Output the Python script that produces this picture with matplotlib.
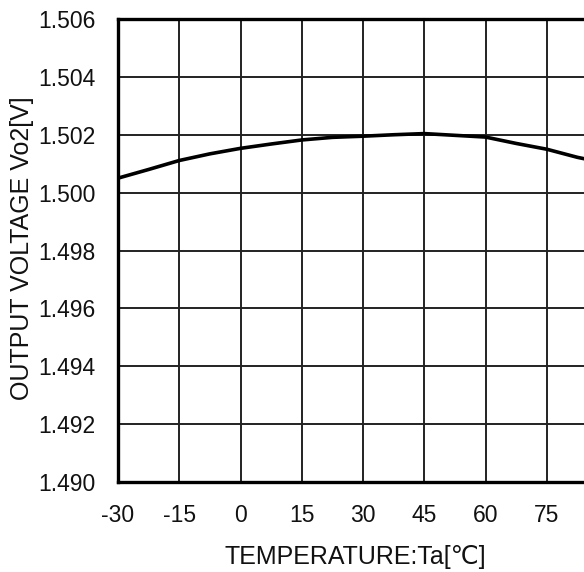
import matplotlib.pyplot as plt

# temperature [C] and output voltage Vo2 [V]
temp = [-30, -22.5, -15, -7.5, 0, 7.5, 15, 22.5, 30, 37.5, 45, 52.5, 60, 67.5, 75, 82.5, 90]
vo2 = [1.50050, 1.50080, 1.50111, 1.50134, 1.50153, 1.50168, 1.50182, 1.50191,
       1.50195, 1.50200, 1.50204, 1.50198, 1.50192, 1.50170, 1.50150, 1.50122, 1.50100]

x_ticks = [-30, -15, 0, 15, 30, 45, 60, 75, 90]
x_labels = ['-30', '-15', '0', '15', '30', '45', '60', '75', '']
y_ticks = [1.490, 1.492, 1.494, 1.496, 1.498, 1.500, 1.502, 1.504, 1.506]

plt.rcParams['font.family'] = ['Liberation Sans', 'DejaVu Sans']

fig = plt.figure(figsize=(5.84, 5.72), dpi=100)
# plot area runs past the right edge of the picture, as in the reference
ax = fig.add_axes([118 / 584, 90 / 572, 490 / 584, 463 / 572])

ax.plot(temp, vo2, color='black', linewidth=2.6)

ax.set_xlim(-30, 90)
ax.set_ylim(1.490, 1.506)
ax.set_xticks(x_ticks)
ax.set_xticklabels(x_labels)
ax.set_yticks(y_ticks)
ax.set_yticklabels(['%.3f' % v for v in y_ticks])

ax.grid(True, color='#222222', linewidth=1.4)
ax.set_axisbelow(True)
for side in ['left', 'bottom', 'top', 'right']:
    ax.spines[side].set_linewidth(2.4)
    ax.spines[side].set_color('black')

ax.tick_params(axis='both', length=0, labelsize=16.5, colors='#111111')
ax.tick_params(axis='x', pad=16)
ax.tick_params(axis='y', pad=16)

ax.set_xlabel('TEMPERATURE:Ta[℃]', fontsize=18, color='#111111')
ax.set_ylabel('OUTPUT VOLTAGE Vo2[V]', fontsize=18, color='#111111')
ax.xaxis.set_label_coords(0.484, -0.135)
ax.yaxis.set_label_coords(-0.172, 0.505)

fig.savefig('out.png', dpi=100)
